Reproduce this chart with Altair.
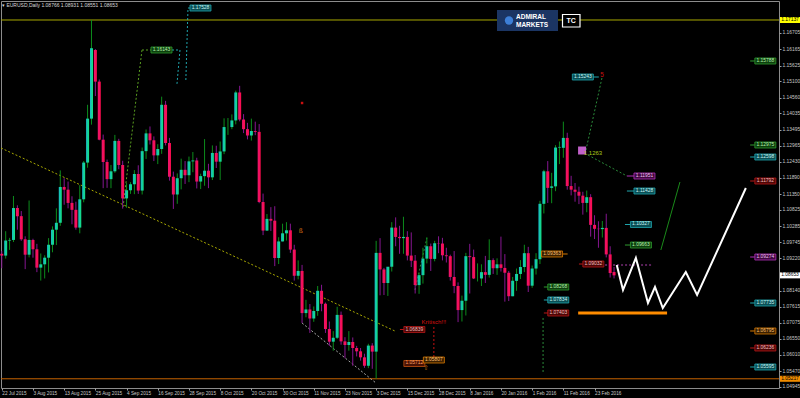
import altair as alt
import pandas as pd

# ---------------- data ----------------
open_ = [1.0937,1.0931,1.0981,1.0983,1.1089,1.1062,1.0985,1.0934,1.0983,1.0952,
         1.0891,1.0902,1.0924,1.0967,1.1017,1.1040,1.1159,1.1150,1.1106,1.1083,
         1.1024,1.1118,1.1240,1.1386,1.1614,1.1509,1.1316,1.1242,1.1185,1.1211,
         1.1312,1.1232,1.1121,1.1148,1.1168,1.1202,1.1147,1.1278,1.1337,1.1314,
         1.1264,1.1285,1.1432,1.1305,1.1193,1.1134,1.1188,1.1216,1.1198,1.1244,
         1.1247,1.1177,1.1195,1.1213,1.1191,1.1272,1.1243,1.1277,1.1358,1.1358,
         1.1380,1.1473,1.1383,1.1351,1.1330,1.1345,1.1342,1.1109,1.1014,1.1053,
         1.1047,1.0923,1.0978,1.1005,1.1015,1.0951,1.0864,1.0880,1.0740,1.0752,
         1.0722,1.0747,1.0814,1.0771,1.0687,1.0645,1.0658,1.0734,1.0646,1.0634,
         1.0644,1.0624,1.0613,1.0593,1.0565,1.0632,1.0612,1.0940,1.0885,1.0840,
         1.0894,1.1024,1.0993,1.0989,1.0993,1.0931,1.0914,1.0833,1.0866,1.0921,
         1.0962,1.0920,1.0972,1.0971,1.0932,1.0929,1.0860,1.0830,1.0750,1.0781,
         1.0929,1.0926,1.0855,1.0855,1.0876,1.0867,1.0916,1.0889,1.0902,1.0890,
         1.0874,1.0796,1.0847,1.0870,1.0893,1.0939,1.0831,1.0888,1.0919,1.1103,
         1.1211,1.1156,1.1161,1.1290,1.1289,1.1322,1.1162,1.1150,1.1143,1.1130,
         1.1106,1.1125,1.1033,1.1020,1.1019,1.1023,1.0935,1.08766]
high = [1.0946,1.1012,1.0990,1.1129,1.1098,1.1079,1.0995,1.1114,1.0987,1.0970,
        1.0938,1.0932,1.0989,1.1028,1.1088,1.1214,1.1188,1.1177,1.1128,1.1110,
        1.1165,1.1245,1.1432,1.1714,1.1617,1.1516,1.1333,1.1250,1.1232,1.1332,
        1.1319,1.1246,1.1172,1.1175,1.1215,1.1231,1.1290,1.1350,1.1360,1.1327,
        1.1301,1.1459,1.1445,1.1322,1.1210,1.1204,1.1253,1.1245,1.1260,1.1275,
        1.1256,1.1203,1.1318,1.1236,1.1297,1.1296,1.1310,1.1387,1.1388,1.1400,
        1.1479,1.1495,1.1401,1.1372,1.1386,1.1376,1.1368,1.1137,1.1069,1.1092,
        1.1095,1.0992,1.1037,1.1042,1.1037,1.0967,1.0915,1.0900,1.0784,1.0770,
        1.0762,1.0830,1.0834,1.0775,1.0712,1.0680,1.0761,1.0745,1.0660,1.0680,
        1.0659,1.0631,1.0624,1.0605,1.0638,1.0640,1.0980,1.0989,1.0890,1.0893,
        1.1042,1.1058,1.1030,1.1060,1.1012,1.1008,1.0933,1.0874,1.0957,1.0992,
        1.0971,1.0980,1.0995,1.0990,1.0957,1.0934,1.0946,1.0842,1.0798,1.0940,
        1.0970,1.0951,1.0905,1.0902,1.0930,1.0985,1.0922,1.0922,1.0994,1.0936,
        1.0880,1.0860,1.0888,1.0916,1.0967,1.0960,1.0898,1.0939,1.1113,1.1216,
        1.1245,1.1206,1.1298,1.1310,1.1376,1.1339,1.1196,1.1172,1.1160,1.1143,
        1.1147,1.1135,1.1065,1.1045,1.1046,1.1070,1.0962,1.08931]
low = [1.0889,1.0921,1.0950,1.0976,1.1017,1.0980,1.0886,1.0925,1.0924,1.0876,
       1.0848,1.0855,1.0875,1.0942,1.0966,1.1030,1.1100,1.1088,1.1035,1.1017,
       1.1005,1.1108,1.1223,1.1366,1.1461,1.1314,1.1155,1.1156,1.1155,1.1206,
       1.1218,1.1087,1.1090,1.1136,1.1135,1.1136,1.1134,1.1252,1.1300,1.1245,
       1.1235,1.1269,1.1297,1.1180,1.1086,1.1103,1.1151,1.1169,1.1175,1.1208,
       1.1154,1.1152,1.1163,1.1155,1.1182,1.1222,1.1182,1.1268,1.1332,1.1351,
       1.1367,1.1377,1.1338,1.1317,1.1313,1.1331,1.1105,1.0999,1.1013,1.1013,
       1.0896,1.0903,1.0978,1.0981,1.0940,1.0848,1.0852,1.0707,1.0726,1.0674,
       1.0711,1.0731,1.0746,1.0674,1.0631,1.0615,1.0654,1.0635,1.0590,1.0615,
       1.0565,1.0596,1.0582,1.0558,1.0557,1.0555,1.0522,1.0799,1.0800,1.0797,
       1.0878,1.0962,1.0937,1.0937,1.0915,1.0893,1.0805,1.0804,1.0838,1.0905,
       1.0880,1.0912,1.0939,1.0915,1.0908,1.0848,1.0806,1.0710,1.0712,1.0732,
       1.0805,1.0853,1.0845,1.0830,1.0840,1.0858,1.0870,1.0867,1.0878,1.0778,
       1.0780,1.0796,1.0814,1.0853,1.0876,1.0810,1.0824,1.0868,1.0903,1.1071,
       1.1106,1.1105,1.1145,1.1235,1.1256,1.1150,1.1131,1.1110,1.1102,1.1067,
       1.1075,1.0994,1.0986,1.0957,1.0991,1.0925,1.0858,1.08551]
close = [1.0931,1.0981,1.0983,1.1089,1.1062,1.0985,1.0934,1.0983,1.0952,1.0891,
         1.0902,1.0924,1.0967,1.1017,1.1040,1.1159,1.1150,1.1106,1.1083,1.1024,
         1.1118,1.1240,1.1386,1.1620,1.1509,1.1316,1.1242,1.1185,1.1211,1.1312,
         1.1232,1.1121,1.1148,1.1168,1.1202,1.1147,1.1278,1.1337,1.1314,1.1264,
         1.1285,1.1432,1.1305,1.1193,1.1134,1.1188,1.1216,1.1198,1.1244,1.1247,
         1.1177,1.1195,1.1213,1.1191,1.1272,1.1243,1.1277,1.1358,1.1358,1.1380,
         1.1473,1.1383,1.1351,1.1330,1.1345,1.1342,1.1109,1.1014,1.1053,1.1047,
         1.0923,1.0978,1.1005,1.1015,1.0951,1.0864,1.0880,1.0740,1.0752,1.0722,
         1.0747,1.0814,1.0771,1.0687,1.0645,1.0658,1.0734,1.0646,1.0634,1.0644,
         1.0624,1.0613,1.0593,1.0565,1.0632,1.0612,1.0940,1.0885,1.0840,1.0894,
         1.1024,1.0993,1.0989,1.0993,1.0931,1.0914,1.0833,1.0866,1.0921,1.0962,
         1.0920,1.0972,1.0971,1.0932,1.0929,1.0860,1.0830,1.0750,1.0781,1.0929,
         1.0926,1.0855,1.0855,1.0876,1.0867,1.0916,1.0889,1.0902,1.0890,1.0874,
         1.0796,1.0847,1.0870,1.0893,1.0939,1.0831,1.0888,1.0919,1.1103,1.1211,
         1.1156,1.1161,1.1290,1.1292,1.1322,1.1162,1.1150,1.1143,1.1130,1.1106,
         1.1125,1.1033,1.1020,1.1019,1.1023,1.0935,1.0873,1.08653]
bar_index = list(range(len(close)))

date_ticks = [0, 8, 16, 24, 32, 40, 48, 56, 64, 72, 80, 88, 96, 104, 112, 120, 128, 136, 144, 152]
date_labels = ["22 Jul 2015", "3 Aug 2015", "13 Aug 2015", "25 Aug 2015", "4 Sep 2015",
               "16 Sep 2015", "28 Sep 2015", "8 Oct 2015", "20 Oct 2015", "30 Oct 2015",
               "11 Nov 2015", "23 Nov 2015", "3 Dec 2015", "15 Dec 2015", "28 Dec 2015",
               "8 Jan 2016", "20 Jan 2016", "1 Feb 2016", "11 Feb 2016", "23 Feb 2016"]
price_ticks = [1.16705, 1.16165, 1.15625, 1.15100, 1.14560, 1.14035, 1.13495, 1.12965,
               1.12430, 1.11890, 1.11350, 1.10825, 1.10285, 1.09745, 1.09220, 1.08140,
               1.07615, 1.07075, 1.06550, 1.06010, 1.05470, 1.04945]

header_text = "\u25be EURUSD,Daily  1.08766 1.08931 1.08551 1.08653"

# projected zigzag (white)
proj_idx = [157.7, 159.3, 162.6, 165.7, 167.5, 169.5, 175.4, 178.3, 190.8]
proj_price = [1.08997, 1.08167, 1.09230, 1.07735, 1.08266, 1.07568, 1.08765, 1.08001, 1.11555]

# edge levels
top_level = [1.17137]
top_level_text = ["1.17137"]
bottom_level = [1.05217]
bottom_level_text = ["1.05217"]
last_price = [1.08653]
last_price_text = ["1.08653"]

# boxed price labels
lab_idx = [40.95, 50.95, 149.0, 164.8, 164.8, 163.9, 163.9, 151.7, 141.1, 142.7, 142.7, 142.7,
           105.8, 105.8, 110.8,
           195.8, 195.8, 195.8, 195.8, 195.8, 195.8, 195.8, 195.8, 195.8]
lab_price = [1.16140, 1.17535, 1.15243, 1.11954, 1.11455, 1.10343, 1.09661, 1.09030, 1.09363,
             1.08266, 1.07835, 1.07403, 1.06854, 1.05725, 1.05841,
             1.15775, 1.12984, 1.12585, 1.11788, 1.09263, 1.07735, 1.06805, 1.06240, 1.05609]
lab_text = ["1.16143", "1.17528", "1.15243", "1.11951", "1.11428", "1.10327", "1.09663",
            "1.09032", "1.09363", "1.08268", "1.07834", "1.07403", "1.06839", "1.05712", "1.05807",
            "1.15788", "1.12975", "1.12598", "1.11792", "1.09274", "1.07735", "1.06795",
            "1.06236", "1.05595"]
lab_kind = ["green", "teal", "teal", "purple", "teal", "teal", "green", "darkred", "orange",
            "green", "teal", "darkred", "darkred", "brown", "orange",
            "green", "green", "teal", "darkred", "purple", "teal", "orange", "darkred", "teal"]

# short solid connectors next to labels
con_x1 = [191.9, 191.9, 191.9, 191.9, 191.9, 191.9, 191.9, 191.9, 191.9,
          160.3, 160.3, 159.8, 159.8, 148.0, 143.9, 139.0, 139.0, 139.0, 102.1, 151.6]
con_x2 = [193.1, 193.1, 193.1, 193.1, 193.1, 193.1, 193.1, 193.1, 193.1,
          162.3, 162.3, 161.3, 161.3, 149.0, 145.1, 140.1, 140.1, 140.1, 103.1, 153.1]
con_price = [1.15775, 1.12984, 1.12585, 1.11788, 1.09263, 1.07735, 1.06805, 1.06240, 1.05609,
             1.11954, 1.11455, 1.10343, 1.09661, 1.09030, 1.09363, 1.08266, 1.07835, 1.07403,
             1.06854, 1.15243]
con_kind = ["green", "green", "teal", "darkred", "purple", "teal", "orange", "darkred", "teal",
            "purple", "teal", "teal", "green", "darkred", "orange", "green", "teal", "darkred",
            "darkred", "teal"]

# dotted segments
dot_x1 = [-0.2, 77.0, 31.1, 35.95, 43.65, 45.7, 47.2, 47.75, 110.8, 153.9, 150.3, 154.7, 138.8, 105.95]
dot_y1 = [1.12884, 1.07070, 1.10924, 1.16140, 1.16140, 1.16140, 1.15143, 1.17535, 1.06937,
          1.15210, 1.12652, 1.08997, 1.07237, 1.08167]
dot_x2 = [100.8, 95.95, 35.95, 38.3, 45.7, 44.9, 47.75, 48.3, 110.8, 149.8, 160.3, 167.0, 138.8, 109.0]
dot_y2 = [1.06805, 1.05077, 1.16140, 1.16140, 1.16140, 1.14977, 1.17535, 1.17535, 1.05908,
          1.12818, 1.11954, 1.08997, 1.05442, 1.09894]
dot_kind = ["olive", "gray", "lime", "lime", "teal", "teal", "teal", "teal", "red",
            "dkgreen", "dkgreen", "violet", "dkgreen", "dkgreen"]

# thick orange target line and thin green line
target_x1, target_x2, target_price = [147.8], [170.6], [1.07403]
gline_x1, gline_y1, gline_x2, gline_y2 = [169.0], [1.09496], [173.9], [1.11755]

# text annotations
krit_idx, krit_price, krit_text = [110.8], [1.07104], ["Kritisch!!!"]
five_idx, five_price, five_text = [153.9], [1.15309], ["5"]
fib_idx, fib_price, fib_text = [151.6], [1.12718], ["1.1263"]
glyph_idx = [76.7, 108.8]
glyph_price = [1.10127, 1.05575]
glyph_text = ["\u00df", "\u21e7"]
marker_idx, marker_price = [77.0], [1.14379]
square_idx, square_price = [148.8], [1.12801]

# ---------------- styles ----------------
kinds = ["green", "teal", "darkred", "purple", "orange", "brown",
         "olive", "gray", "lime", "red", "dkgreen", "violet"]
stroke_cols = ["#2f9a2f", "#1fa6ae", "#b81818", "#b030b8", "#d87a00", "#c05010",
               "#a8a800", "#a8a8a8", "#5aa020", "#c81010", "#2a8a3a", "#b040b0"]
lkinds = ["green", "teal", "darkred", "purple", "orange", "brown"]
fill_cols = ["#0d3f0d", "#0b4f55", "#4d0606", "#400840", "#3a2000", "#4a1204"]
text_cols = ["#b8f0b0", "#c8f4f4", "#f4c0c0", "#f0c0f0", "#ffc070", "#ffa060"]
SS = alt.Scale(domain=kinds, range=stroke_cols)
FS = alt.Scale(domain=lkinds, range=fill_cols)
TS = alt.Scale(domain=lkinds, range=text_cols)

FONT = "Liberation Sans"
XS = alt.Scale(domain=[-0.2, 199.3], nice=False, zero=False, padding=0)
YS = alt.Scale(domain=[1.04911, 1.17768], nice=False, zero=False, padding=0)
label_array = "[" + ",".join("'%s'" % d for d in date_labels) + "]"
XA = alt.Axis(values=date_ticks, labelExpr=label_array + "[round(datum.value/8)]",
              labelFont=FONT, labelFontSize=4.7, labelColor="#c8c8c8", labelAlign="left",
              labelPadding=0, tickSize=2, tickColor="#a0a0a0", domain=False, grid=False,
              labelOverlap=False, labelFlush=False, labelBound=False, title=None)
YA = alt.Axis(values=price_ticks, format=".5f", orient="right", labelFont=FONT,
              labelFontSize=4.9, labelColor="#c8c8c8", labelPadding=1, tickSize=2,
              tickColor="#a0a0a0", domain=False, grid=False, labelOverlap=False,
              labelFlush=False, labelBound=False, title=None)


def X(f):
    return alt.X(f + ":Q", scale=XS, axis=XA, title=None)


def Y(f):
    return alt.Y(f + ":Q", scale=YS, axis=YA, title=None)


candles = pd.DataFrame({"i": bar_index, "o": open_, "h": high, "l": low, "c": close})

wicks = alt.Chart(candles).mark_rule(strokeWidth=1).encode(
    x=X("i"), y=Y("l"), y2="h",
    color=alt.condition("datum.c >= datum.o", alt.value("#0c8c1c"), alt.value("#861690")))

bull_grad = alt.Gradient(gradient="linear", x1=0, x2=1, y1=0, y2=0,
                         stops=[alt.GradientStop(color="#18b8c8", offset=0),
                                alt.GradientStop(color="#12e47e", offset=1)])
bear_grad = alt.Gradient(gradient="linear", x1=0, x2=1, y1=0, y2=0,
                         stops=[alt.GradientStop(color="#e8146e", offset=0),
                                alt.GradientStop(color="#ff0c4c", offset=1)])
bull = alt.Chart(candles).transform_filter("datum.c >= datum.o").mark_bar(
    size=3, color=bull_grad).encode(x=X("i"), y=Y("o"), y2="c")
bear = alt.Chart(candles).transform_filter("datum.c < datum.o").mark_bar(
    size=3, color=bear_grad).encode(x=X("i"), y=Y("o"), y2="c")

top_line = alt.Chart(pd.DataFrame({"p": top_level})).mark_rule(
    strokeWidth=1, color="#a8a800").encode(y=Y("p"))
bottom_line = alt.Chart(pd.DataFrame({"p": bottom_level})).mark_rule(
    strokeWidth=1, color="#c86400").encode(y=Y("p"))

trend = pd.DataFrame({"x1": dot_x1, "y1": dot_y1, "x2": dot_x2, "y2": dot_y2, "k": dot_kind})
dotted = alt.Chart(trend).mark_rule(strokeWidth=1, strokeDash=[2, 2]).encode(
    x=X("x1"), x2="x2", y=Y("y1"), y2="y2", stroke=alt.Stroke("k:N", scale=SS, legend=None))

gline = alt.Chart(pd.DataFrame({"x1": gline_x1, "y1": gline_y1, "x2": gline_x2, "y2": gline_y2})
                  ).mark_rule(strokeWidth=1, color="#1a8a1a").encode(
    x=X("x1"), x2="x2", y=Y("y1"), y2="y2")

target = alt.Chart(pd.DataFrame({"x1": target_x1, "x2": target_x2, "p": target_price})
                   ).mark_rule(strokeWidth=3, color="#ff8c00").encode(
    x=X("x1"), x2="x2", y=Y("p"))

proj = alt.Chart(pd.DataFrame({"i": proj_idx, "p": proj_price, "n": list(range(len(proj_idx)))})
                 ).mark_line(color="#ffffff", strokeWidth=2).encode(
    x=X("i"), y=Y("p"), order="n:Q")

cons = alt.Chart(pd.DataFrame({"x1": con_x1, "x2": con_x2, "p": con_price, "k": con_kind})
                 ).mark_rule(strokeWidth=1).encode(
    x=X("x1"), x2="x2", y=Y("p"), stroke=alt.Stroke("k:N", scale=SS, legend=None))

labels = pd.DataFrame({"i": lab_idx, "p": lab_price, "t": lab_text, "k": lab_kind})
box_shape = "M-1,-0.286L1,-0.286L1,0.286L-1,0.286Z"
boxes = alt.Chart(labels).mark_point(shape=box_shape, size=441, filled=True, opacity=1,
                                     strokeWidth=0.8).encode(
    x=X("i"), y=Y("p"),
    fill=alt.Fill("k:N", scale=FS, legend=None),
    stroke=alt.Stroke("k:N", scale=SS, legend=None))
box_text = alt.Chart(labels).mark_text(font=FONT, fontSize=4.9, align="center",
                                       baseline="middle").encode(
    x=X("i"), y=Y("p"), text="t:N", color=alt.Color("k:N", scale=TS, legend=None))

edge_shape = "M-1,-0.3L1,-0.3L1,0.3L-1,0.3Z"


def edge_box(vals, txt, fill):
    df = pd.DataFrame({"p": vals, "t": txt})
    b = alt.Chart(df).mark_point(shape=edge_shape, size=400, filled=True, opacity=1,
                                 strokeWidth=0, color=fill).encode(x=alt.value(789), y=Y("p"))
    t = alt.Chart(df).mark_text(font=FONT, fontSize=4.9, align="center", baseline="middle",
                                color="#000000").encode(x=alt.value(789), y=Y("p"), text="t:N")
    return [b, t]


def note(ix, pr, txt, col, size, align="center", font=FONT):
    return alt.Chart(pd.DataFrame({"i": ix, "p": pr, "t": txt})).mark_text(
        font=font, fontSize=size, align=align, baseline="middle", color=col).encode(
        x=X("i"), y=Y("p"), text="t:N")


krit = note(krit_idx, krit_price, krit_text, "#d41010", 6)
five = note(five_idx, five_price, five_text, "#c81010", 6.5)
fib = note(fib_idx, fib_price, fib_text, "#a8c81a", 6)
glyphs = note(glyph_idx, glyph_price, glyph_text, "#d07010", 6.5, font="DejaVu Sans")

marker = alt.Chart(pd.DataFrame({"i": marker_idx, "p": marker_price})).mark_point(
    shape="square", size=6, filled=True, opacity=1, color="#c81010").encode(x=X("i"), y=Y("p"))
square = alt.Chart(pd.DataFrame({"i": square_idx, "p": square_price})).mark_point(
    shape="square", size=64, filled=True, opacity=1, color="#c060c8").encode(x=X("i"), y=Y("p"))

# header & logo
header = alt.Chart(pd.DataFrame({"t": [header_text]})).mark_text(
    font=FONT, fontSize=5, align="left", baseline="middle", color="#d8d8d8").encode(
    x=alt.value(1), y=alt.value(4), text="t:N")
logo_bg = alt.Chart(pd.DataFrame({"a": [0]})).mark_rect(color="#1b3563").encode(
    x=alt.value(496), x2=alt.value(557), y=alt.value(9), y2=alt.value(30))
logo_dot = alt.Chart(pd.DataFrame({"a": [0]})).mark_point(
    shape="circle", size=70, filled=True, opacity=1, color="#3d7fd6").encode(
    x=alt.value(508), y=alt.value(19.5))
logo_txt = alt.Chart(pd.DataFrame({"t": ["ADMIRAL", "MARKETS"], "yy": [15.5, 24]})).mark_text(
    font=FONT, fontSize=6.5, fontWeight="bold", align="left", baseline="middle",
    color="#ffffff").encode(x=alt.value(515), y=alt.Y("yy:Q", scale=None), text="t:N")
tc_box = alt.Chart(pd.DataFrame({"a": [0]})).mark_rect(
    fill="#000000", stroke="#ffffff", strokeWidth=1.2).encode(
    x=alt.value(561.5), x2=alt.value(579), y=alt.value(13.5), y2=alt.value(26))
tc_txt = alt.Chart(pd.DataFrame({"t": ["TC"]})).mark_text(
    font=FONT, fontSize=7, fontWeight="bold", align="center", baseline="middle",
    color="#ffffff").encode(x=alt.value(570.2), y=alt.value(20), text="t:N")

layers = [top_line, bottom_line, dotted, wicks, bull, bear, gline, target, proj, cons,
          boxes, box_text, square, krit, five, fib, glyphs, marker]
layers += edge_box(top_level, top_level_text, "#ffff00")
layers += edge_box(bottom_level, bottom_level_text, "#f08c00")
layers += edge_box(last_price, last_price_text, "#ffffff")
layers += [header, logo_bg, logo_dot, logo_txt, tc_box, tc_txt]

chart = alt.layer(*layers).properties(
    width=778, height=387, background="#000000",
    padding={"left": 1, "top": 1, "right": 21, "bottom": 10},
    autosize=alt.AutoSizeParams(type="none")
).configure_view(stroke="#8c8c8c", strokeWidth=1, fill="#000000")

chart.save("out.html", embed_options={"renderer": "svg", "actions": False})
